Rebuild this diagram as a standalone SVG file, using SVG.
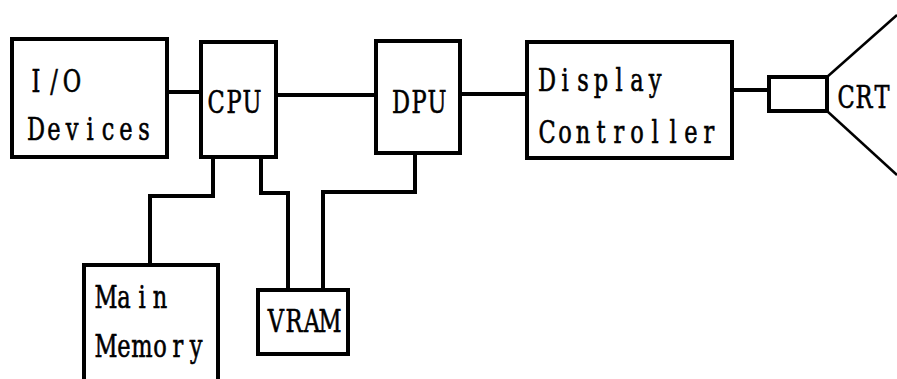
<svg xmlns="http://www.w3.org/2000/svg" width="897" height="379" viewBox="0 0 897 379">
<style>
.box{fill:#fff;stroke:#000;stroke-width:4}
.ln{fill:none;stroke:#000;stroke-width:4}
.thin{fill:none;stroke:#000;stroke-width:2.5}
text{font-family:"DejaVu Serif","Liberation Serif",serif;font-size:25px;fill:#000;stroke:#000;stroke-width:0.5;text-anchor:middle}
</style>
<rect width="897" height="379" fill="#fff"/>
<g id="connectors">
<line class="ln" x1="167" y1="92" x2="201" y2="92"/>
<line class="ln" x1="276" y1="95" x2="376" y2="95"/>
<line class="ln" x1="460" y1="94" x2="527" y2="94"/>
<line class="ln" x1="732" y1="90" x2="769" y2="90"/>
<polyline class="ln" points="213,157 213,196 150,196 150,265"/>
<polyline class="ln" points="261,157 261,193 288,193 288,290"/>
<polyline class="ln" points="415,153 415,192 323,192 323,290"/>
</g>
<g id="io"><rect class="box" x="12" y="39" width="155" height="118"/>
<text transform="translate(27,92) scale(0.9,1.25)" x="10 30 50">I/O</text>
<text transform="translate(27,140) scale(0.9,1.25)" x="10 30 50 70 90 110 130">Devices</text></g>
<g id="cpu"><rect class="box" x="201" y="42" width="75" height="115"/>
<text transform="translate(207,113) scale(0.9,1.25)" x="10 30 50">CPU</text></g>
<g id="dpu"><rect class="box" x="376" y="41" width="84" height="112"/>
<text transform="translate(392,113) scale(0.9,1.25)" x="10 30 50">DPU</text></g>
<g id="display"><rect class="box" x="527" y="42" width="205" height="116"/>
<text transform="translate(538,91) scale(0.9,1.25)" x="10 30 50 70 90 110 130">Display</text>
<text transform="translate(538,143) scale(0.9,1.25)" x="10 30 50 70 90 110 130 150 170 190">Controller</text></g>
<g id="crt"><rect class="box" x="769" y="77" width="58" height="34"/>
<line class="thin" x1="827" y1="77" x2="897" y2="15"/>
<line class="thin" x1="827" y1="111" x2="897" y2="175"/>
<text transform="translate(837,108) scale(0.9,1.25)" x="10 30 50">CRT</text></g>
<g id="mainmem"><rect class="box" x="84" y="265" width="134" height="130"/>
<text transform="translate(97,308) scale(0.9,1.25)" x="10 30 50 70">Main</text>
<text transform="translate(97,357) scale(0.9,1.25)" x="10 30 50 70 90 110">Memory</text></g>
<g id="vram"><rect class="box" x="258" y="290" width="90" height="64"/>
<text transform="translate(267,332) scale(0.9,1.25)" x="10 30 50 70">VRAM</text></g>
</svg>
